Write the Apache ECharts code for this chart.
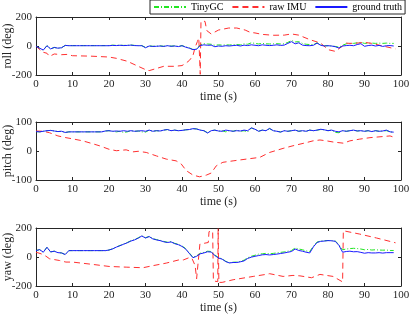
<!DOCTYPE html>
<html>
<head>
<meta charset="utf-8">
<script src="https://cdn.jsdelivr.net/npm/echarts@6/dist/echarts.min.js"></script>
<style>html,body{margin:0;padding:0;background:#fff}#c{width:409px;height:315px}</style>
</head>
<body>
<div id="c"></div>
<script>
// ---- data ----
const seriesNames = ['TinyGC', 'raw IMU', 'ground truth'];
const xTicks = [0,10,20,30,40,50,60,70,80,90,100];

// roll
const rollTime = [0,1,2,3,4,5,6,7,8,9,10,11,12,13,14,15,16,17,18,19,20,21,22,23,24,25,26,27,28,29,30,31,32,33,34,35,36,37,38,39,40,41,42,43,44,45,46,47,48,49,50,51,52,53,54,55,56,57,58,59,60,61,62,63,64,65,66,67,68,69,70,71,72,73,74,75,76,77,78,79,80,81,82,83,84,85,86,87,88,89,90,91,92,93,94,95,96,97,98];
const rollTruth = [-2,-15,-28,2,-20,-10,-15,-12,4,2,2,2,2,2,2,2,2,2,2,2,2,4,3,5,3,4,6,3,2,2,-12,0,-3,-2,0,-3,2,-2,0,-4,2,-8,-15,-25,-22,3,8,5,6,-5,0,-2,2,0,3,5,0,6,3,8,5,2,8,5,3,5,8,4,6,18,30,15,22,6,3,2,5,20,5,0,2,0,-5,-14,0,3,5,2,10,16,-2,3,6,0,4,-3,2,3,0];
const rollTinyGC = [-2,-15,-28,2,-20,-10,-15,-12,4,3,3,3,3,3,3,3,3,3,3,3,3,6,4,6,4,5,7,4,3,3,-10,1,-2,-1,1,-2,3,-1,1,-3,3,-6,-13,-24,-20,8,16,14,12,5,8,6,8,7,9,10,8,15,12,22,18,14,18,15,14,15,16,14,15,25,38,28,30,18,12,10,10,22,8,2,2,0,-3,-8,5,15,18,18,22,25,18,20,20,18,20,18,20,18,18];
const rollRawTime = [0,1,1.5,2,3,3.7,5,7,8.5,10,15,20,22,25,28,30,31,33,35,38,40,41,42,43,43.6,44.2,44.6,45,45.2,46.3,46.8,48,50,52.8,55,57.3,58.7,60,62,65,68,70,72,75,78,80,82,84,85,86,88,90,92,95,98.5];
const rollRaw = [0,-25,-40,-35,-50,-72,-55,-60,-58,-67,-70,-76,-85,-105,-140,-163,-170,-155,-140,-140,-135,-120,-100,-67,-9,30,55,-195,170,170,106,83,110,124,124,110,94,90,80,74,75,83,75,44,20,-25,-37,0,20,18,20,25,18,0,-20];

// pitch
const pitchTime = rollTime;
const pitchTruth = [67,66,68,70,71,69,67,68,64,66,66,66,66,66,66,66,66,66,66,69,70,68,69,68,70,68,70,68,69,70,68,72,68,70,69,72,74,70,72,70,71,73,74,77,76,72,70,62,70,72,69,68,72,70,68,70,69,72,70,80,75,68,72,70,78,70,68,65,70,68,70,72,68,70,68,72,70,72,75,73,70,72,68,66,70,68,70,72,69,70,68,70,67,70,68,69,72,66,65];
const pitchTinyGC = [67,66,68,70,71,69,67,68,64,66,66,66,66,66,66,66,66,66,66,69,70,68,66,68,64,66,70,68,69,66,65,72,68,70,69,72,74,70,72,70,71,73,74,77,76,72,70,63,70,72,68,70,66,70,68,72,68,70,66,79,75,68,72,70,77,70,68,66,70,68,70,72,68,70,68,72,70,72,74,73,70,72,64,63,70,68,70,72,69,70,68,70,67,70,68,69,70,67,63];
const pitchRawTime = [0,2,3.7,6,8.2,10,12.8,15,17.4,20,22,24.7,26.5,28,30.2,33,35.7,38.4,39.8,41.2,43,44.8,46.7,48,49.4,51.2,54,57.6,61.3,64,67.7,70.4,74.1,75.9,77.8,79.6,81.4,84.2,86,88.7,91.5,95.2,97,98.4];
const pitchRaw = [69,68,63,52,46,42,35,27,18,6,1,4,-3,-1,-5,-17,-28,-34,-45,-68,-83,-89,-83,-76,-51,-39,-34,-28,-22,-5,9,18,29,35,38,35,31,27,35,41,46,50,52,46];

// yaw
const yawTime = rollTime;
const yawTruth = [44,51,33,67,35,40,30,28,17,44,44,44,44,44,44,44,44,44,44,44,48,56,68,78,88,98,110,118,130,145,131,141,125,118,113,105,100,104,92,85,73,55,25,-5,5,22,28,36,34,10,-7,-15,-32,-41,-38,-38,-33,-27,-10,-1,5,10,15,17,14,17,20,24,28,33,38,55,45,40,33,28,70,100,108,110,113,112,108,80,33,38,40,36,37,32,26,30,28,28,30,27,30,30,30];
const yawTinyGC = [44,51,33,67,35,40,30,28,17,44,44,44,44,44,44,44,44,44,44,44,48,57,69,79,90,100,112,120,132,146,133,142,127,120,115,107,102,106,94,88,76,58,28,-2,8,26,32,40,38,14,-4,-12,-30,-39,-36,-35,-30,-22,-5,5,12,20,22,25,22,25,28,32,35,40,45,62,55,50,42,38,75,103,110,112,114,112,110,85,50,55,58,60,58,55,50,52,48,50,48,47,48,45,45];
const yawRawTime = [0,1.4,2.7,3.7,6.4,8.2,8.7,10,15.5,20,24.7,29.3,32,35.7,39.3,40.4,42.2,42.8,43.6,44,44.9,45.3,47.2,47.4,48.4,48.6,49.8,49.9,50.1,51,54,59.5,63,64,67.7,70.4,72.3,75.5,77.8,81.4,84,84.2,88.7,93.3,98.5];
const yawRaw = [33,22,6,-12,-24,-35,-28,-35,-51,-65,-70,-74,-60,-42,-19,-20,-2,-14,-59,-150,89,92,100,175,177,-165,-170,195,-175,-175,-157,-134,-120,-115,-134,-127,-130,-143,-120,-134,-172,181,158,131,98];

const panels = [
  {name: 'roll (deg)',  min: -200, max: 200, interval: 200, t: rollTime, g: rollTinyGC, gt: rollTruth, rt: rollRawTime, r: rollRaw},
  {name: 'pitch (deg)', min: -100, max: 100, interval: 100, t: pitchTime, g: pitchTinyGC, gt: pitchTruth, rt: pitchRawTime, r: pitchRaw},
  {name: 'yaw (deg)',   min: -200, max: 200, interval: 200, t: yawTime, g: yawTinyGC, gt: yawTruth, rt: yawRawTime, r: yawRaw}
];

const zip = (a, b) => a.map((x, i) => [x, b[i]]);
const FONT = 'Liberation Serif';
const INK = '#262626';
const tops = [17, 122, 228];
const grid = [], xAxis = [], yAxis = [], series = [];
const aLine = {show: true, onZero: false, lineStyle: {color: INK, width: 1}};
const aTick = {show: true, inside: true, length: 3, lineStyle: {color: INK}};
panels.forEach((p, i) => {
  grid.push({left: 36, right: 8, top: tops[i], height: 58, show: false, containLabel: false, outerBoundsMode: 'none'});
  xAxis.push({type: 'value', gridIndex: i, min: 0, max: 100, interval: 10, position: 'bottom',
    axisLine: aLine, axisTick: aTick,
    axisLabel: {color: INK, fontFamily: FONT, fontSize: 11, margin: 4},
    splitLine: {show: false},
    name: 'time (s)', nameLocation: 'middle', nameGap: 16, nameMoveOverlap: false,
    nameTextStyle: {color: INK, fontFamily: FONT, fontSize: 12}});
  xAxis.push({type: 'value', gridIndex: i, min: 0, max: 100, interval: 10, position: 'top',
    axisLine: aLine, axisTick: aTick, axisLabel: {show: false}, splitLine: {show: false}});
  yAxis.push({type: 'value', gridIndex: i, min: p.min, max: p.max, interval: p.interval, position: 'left',
    axisLine: aLine, axisTick: aTick,
    axisLabel: {color: INK, fontFamily: FONT, fontSize: 11, margin: 4},
    splitLine: {show: false},
    name: p.name, nameLocation: 'middle', nameGap: 22, nameRotate: 90, nameMoveOverlap: false,
    nameTextStyle: {color: INK, fontFamily: FONT, fontSize: 12}});
  yAxis.push({type: 'value', gridIndex: i, min: p.min, max: p.max, interval: p.interval, position: 'right',
    axisLine: aLine, axisTick: aTick, axisLabel: {show: false}, splitLine: {show: false}});
  const xi = i * 2, yi = i * 2;
  series.push({name: 'TinyGC', type: 'line', xAxisIndex: xi, yAxisIndex: yi, data: zip(p.t, p.g),
    symbol: 'none', lineStyle: {color: '#22e622', width: 1, type: [5, 2, 1, 2]}, itemStyle: {color: '#22e622'}});
  series.push({name: 'raw IMU', type: 'line', xAxisIndex: xi, yAxisIndex: yi, data: zip(p.rt, p.r),
    symbol: 'none', lineStyle: {color: '#ff3030', width: 1, type: [6, 4]}, itemStyle: {color: '#ff3030'}});
  series.push({name: 'ground truth', type: 'line', xAxisIndex: xi, yAxisIndex: yi, data: zip(p.t, p.gt),
    symbol: 'none', lineStyle: {color: '#1a1aff', width: 1}, itemStyle: {color: '#1a1aff'}});
});

const chart = echarts.init(document.getElementById('c'), null, {renderer: 'canvas'});
chart.setOption({
  animation: false,
  backgroundColor: '#fff',
  grid, xAxis, yAxis, series,
  legend: {data: seriesNames, left: 150, top: 0, width: 258, orient: 'horizontal',
    padding: [2, 3, 2, 3], itemGap: 8,
    itemWidth: 32, itemHeight: 10, backgroundColor: '#fff', borderColor: INK, borderWidth: 1,
    itemStyle: {opacity: 0},
    textStyle: {fontFamily: FONT, fontSize: 10, color: '#000'}}
});
</script>
</body>
</html>
